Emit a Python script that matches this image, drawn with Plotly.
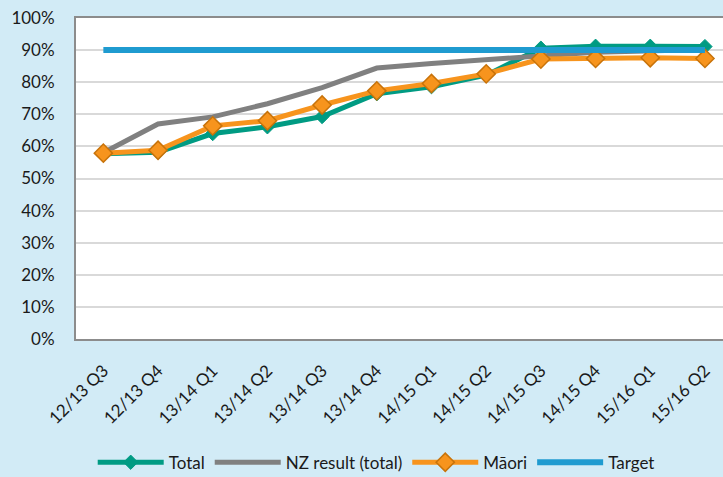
import plotly.graph_objects as go

categories = ["12/13 Q3", "12/13 Q4", "13/14 Q1", "13/14 Q2", "13/14 Q3", "13/14 Q4",
              "14/15 Q1", "14/15 Q2", "14/15 Q3", "14/15 Q4", "15/16 Q1", "15/16 Q2"]
total = [57.7, 58.2, 64.0, 66.1, 69.3, 76.4, 78.6, 82.2, 90.6, 91.2, 91.2, 91.1]
nz_result = [58.0, 67.0, 69.2, 73.3, 78.3, 84.4, 85.8, 87.1, 88.2, 89.3, 89.8, 90.2]
maori = [57.9, 58.8, 66.4, 68.0, 72.9, 77.3, 79.6, 82.6, 87.2, 87.4, 87.6, 87.4]
target = [90] * 12
y_ticks = list(range(0, 101, 10))
y_tick_labels = [f"{v}%" for v in y_ticks]

FONT = "Lato, Calibri, Carlito, sans-serif"

fig = go.Figure()
fig.add_trace(go.Scatter(
    x=categories, y=total, name="Total", mode="lines+markers",
    line=dict(color="#009B83", width=5),
    marker=dict(symbol="diamond", size=11, color="#009B83",
                line=dict(color="#009B83", width=1))))
fig.add_trace(go.Scatter(
    x=categories, y=nz_result, name="NZ result (total)", mode="lines",
    line=dict(color="#808080", width=5)))
fig.add_trace(go.Scatter(
    x=categories, y=maori, name="Māori", mode="lines+markers",
    line=dict(color="#F7941D", width=5),
    marker=dict(symbol="diamond", size=14, color="#F7941D",
                line=dict(color="#C8730A", width=1.5))))
fig.add_trace(go.Scatter(
    x=categories, y=target, name="Target", mode="lines",
    line=dict(color="#1F9BD0", width=6)))

fig.update_layout(
    width=723, height=477,
    margin=dict(l=76, r=0, t=18, b=138, autoexpand=False),
    paper_bgcolor="#D2EBF6",
    plot_bgcolor="white",
    font=dict(family=FONT, size=17, color="#1a1a1a"),
    showlegend=True,
    legend=dict(orientation="h", x=0.464, xanchor="center",
                yref="container", y=0.03, yanchor="middle",
                font=dict(size=17), itemwidth=66, traceorder="normal",
                bgcolor="rgba(0,0,0,0)"),
)
fig.update_xaxes(
    type="category", range=[-0.5, 11.33], automargin=False,
    tickangle=-45, showgrid=False,
    showline=True, linecolor="#8c8c8c", linewidth=2, mirror=True,
    ticks="", tickfont=dict(size=17, family=FONT),
    ticklabelstandoff=13,
)
fig.update_yaxes(
    range=[0, 100], tickvals=y_ticks, ticktext=y_tick_labels, automargin=False,
    showgrid=True, gridcolor="#D9D9D9", gridwidth=1.5,
    showline=True, linecolor="#8c8c8c", linewidth=2, mirror=True,
    zeroline=False, ticks="", tickfont=dict(size=17, family=FONT),
    ticklabelstandoff=16,
)

fig.write_html("out.html", config={"displayModeBar": False},
               post_script="document.body.style.margin='0';document.body.style.background='#D2EBF6';")
